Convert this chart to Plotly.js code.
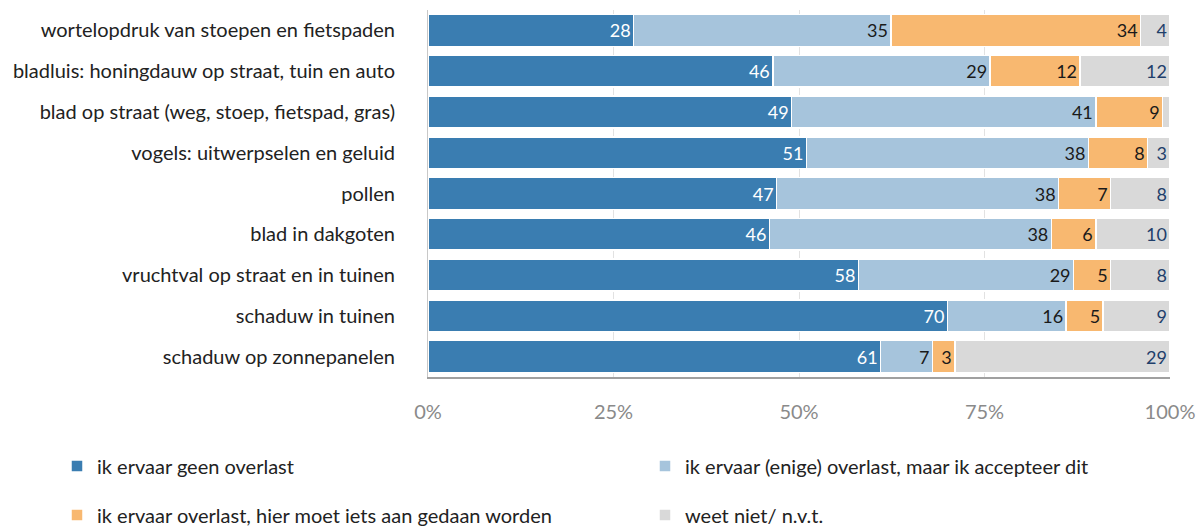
<!DOCTYPE html>
<html>
<head>
<meta charset="utf-8">
<script src="https://cdn.plot.ly/plotly-3.0.1.min.js"></script>
<style>
  body { margin: 0; background: #fff; }
  #chart { width: 1203px; height: 527px; }
</style>
</head>
<body>
<div id="chart"></div>
<script>
const categories = [
  'wortelopdruk van stoepen en fietspaden',
  'bladluis: honingdauw op straat, tuin en auto',
  'blad op straat (weg, stoep, fietspad, gras)',
  'vogels: uitwerpselen en geluid',
  'pollen',
  'blad in dakgoten',
  'vruchtval op straat en in tuinen',
  'schaduw in tuinen',
  'schaduw op zonnepanelen'
];

const seriesNames = [
  'ik ervaar geen overlast',
  'ik ervaar (enige) overlast, maar ik accepteer dit',
  'ik ervaar overlast, hier moet iets aan gedaan worden',
  'weet niet/ n.v.t.'
];

const geenOverlast = [28, 46, 49, 51, 47, 46, 58, 70, 61];
const accepteer = [35, 29, 41, 38, 38, 38, 29, 16, 7];
const moetIets = [34, 12, 9, 8, 7, 6, 5, 5, 3];
const weetNiet = [4, 12, 1, 3, 8, 10, 8, 9, 29];
const weetNietLabels = ['4', '12', '', '3', '8', '10', '8', '9', '29'];

const colors = ['#3a7db1', '#a6c4dc', '#f8b870', '#d9d9d9'];
const textColors = ['#ffffff', '#1a1a1a', '#1a1a1a', '#1f3f6b'];
const values = [geenOverlast, accepteer, moetIets, weetNiet];
const labels = [geenOverlast.map(String), accepteer.map(String), moetIets.map(String), weetNietLabels];
const legendIds = ['legend', 'legend2', 'legend3', 'legend4'];

const traces = values.map((v, i) => ({
  type: 'bar',
  orientation: 'h',
  y: categories,
  x: v,
  name: seriesNames[i],
  legend: legendIds[i],
  marker: { color: colors[i], line: { color: '#ffffff', width: 1.5 } },
  text: labels[i],
  textposition: 'inside',
  insidetextanchor: 'end',
  textangle: 0,
  constraintext: 'none',
  textfont: { color: textColors[i], size: 18, family: 'Lato, sans-serif' },
  hoverinfo: 'x+y+name'
}));

// one legend per entry: two columns, two rows
function legendAt(xPx, yPx) {
  return {
    orientation: 'h',
    xref: 'container',
    yref: 'container',
    x: xPx / 1203,
    y: 1 - yPx / 527,
    xanchor: 'left',
    yanchor: 'middle',
    font: { size: 20, color: '#222', family: 'Lato, sans-serif' },
    bgcolor: 'rgba(0,0,0,0)'
  };
}

const layout = {
  width: 1203,
  height: 527,
  barmode: 'stack',
  barnorm: 'percent',
  bargap: 0.22,
  margin: { l: 428, r: 33, t: 10, b: 150, autoexpand: false },
  paper_bgcolor: '#ffffff',
  plot_bgcolor: '#ffffff',
  font: { family: 'Lato, sans-serif', color: '#222' },
  showlegend: true,
  xaxis: {
    range: [0, 100],
    tickvals: [0, 25, 50, 75, 100],
    ticktext: ['0%', '25%', '50%', '75%', '100%'],
    tickfont: { size: 20, color: '#8a8a8a' },
    ticklabelstandoff: 16,
    showgrid: true,
    gridcolor: '#e2e2e2',
    gridwidth: 1,
    zeroline: false,
    showline: true,
    linecolor: '#a0a0a0',
    linewidth: 2,
    fixedrange: true
  },
  yaxis: {
    autorange: 'reversed',
    tickfont: { size: 20, color: '#222' },
    ticklabelstandoff: 28,
    showline: true,
    linecolor: '#c8c8c8',
    linewidth: 1,
    showgrid: false,
    fixedrange: true
  },
  legend: legendAt(57, 466),
  legend2: legendAt(645, 466),
  legend3: legendAt(57, 515),
  legend4: legendAt(645, 515)
};

Plotly.newPlot('chart', traces, layout, { displayModeBar: false, staticPlot: true });
</script>
</body>
</html>
